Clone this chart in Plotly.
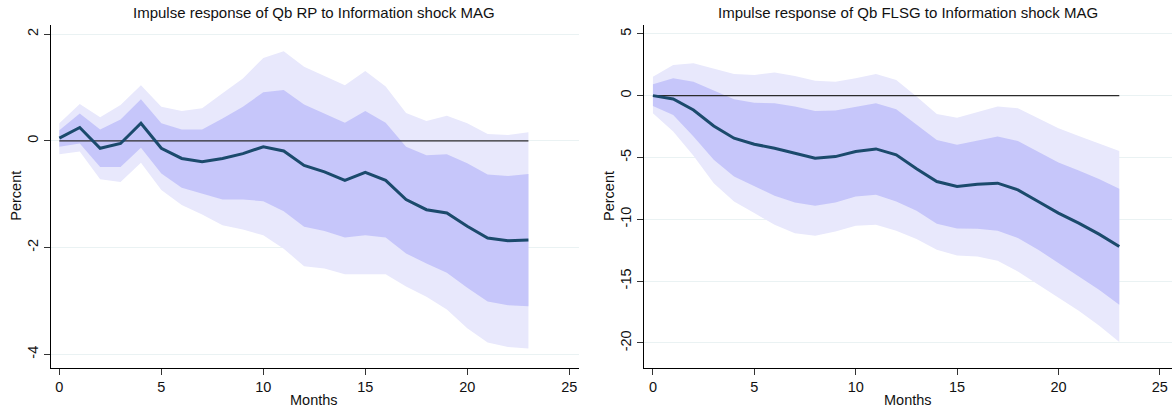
import plotly.graph_objects as go

# Horizon (months after the shock)
months = list(range(24))

# Axis ticks (labels written with a plain hyphen)
x_ticks = [0, 5, 10, 15, 20, 25]
rp_y_ticks = [-4, -2, 0, 2]
fl_y_ticks = [-20, -15, -10, -5, 0, 5]

# Qb RP: impulse response with inner and outer confidence bands
rp_irf = [0.05, 0.25, -0.14, -0.05, 0.33, -0.14, -0.33, -0.39, -0.33, -0.24, -0.11, -0.19,
          -0.46, -0.58, -0.74, -0.59, -0.74, -1.10, -1.29, -1.35, -1.60, -1.82, -1.87, -1.86]
rp_inner_hi = [0.20, 0.51, 0.21, 0.40, 0.78, 0.33, 0.21, 0.21, 0.42, 0.64, 0.91, 0.95,
               0.68, 0.51, 0.34, 0.56, 0.34, -0.11, -0.27, -0.25, -0.42, -0.63, -0.66, -0.62]
rp_inner_lo = [-0.11, -0.05, -0.49, -0.49, -0.13, -0.61, -0.88, -0.99, -1.10, -1.10, -1.13, -1.32,
               -1.61, -1.69, -1.81, -1.77, -1.81, -2.11, -2.30, -2.47, -2.75, -3.01, -3.08, -3.10]
rp_outer_hi = [0.33, 0.69, 0.44, 0.67, 1.04, 0.64, 0.56, 0.61, 0.89, 1.17, 1.55, 1.68,
               1.39, 1.21, 1.04, 1.31, 1.02, 0.52, 0.37, 0.47, 0.33, 0.13, 0.11, 0.16]
rp_outer_lo = [-0.25, -0.20, -0.72, -0.77, -0.41, -0.92, -1.20, -1.38, -1.58, -1.66, -1.77, -2.02,
               -2.35, -2.39, -2.50, -2.50, -2.50, -2.73, -2.92, -3.16, -3.51, -3.78, -3.86, -3.89]

# Qb FLSG: impulse response with inner and outer confidence bands
fl_irf = [0.0, -0.27, -1.16, -2.45, -3.44, -3.93, -4.25, -4.65, -5.06, -4.93, -4.52, -4.31,
          -4.79, -5.92, -6.95, -7.35, -7.16, -7.08, -7.62, -8.56, -9.50, -10.31, -11.20, -12.20]
fl_inner_hi = [0.92, 1.40, 1.13, 0.40, -0.29, -0.57, -0.62, -0.89, -1.24, -1.21, -0.89, -0.62,
               -1.10, -2.37, -3.58, -3.98, -3.63, -3.31, -3.66, -4.52, -5.41, -6.06, -6.75, -7.54]
fl_inner_lo = [-0.83, -1.56, -3.31, -5.19, -6.54, -7.35, -8.10, -8.64, -8.91, -8.64, -8.16, -8.02,
               -8.56, -9.31, -10.36, -10.74, -10.77, -10.93, -11.52, -12.46, -13.54, -14.62, -15.70, -16.90]
fl_outer_hi = [1.53, 2.48, 2.62, 2.21, 1.75, 1.67, 1.86, 1.59, 1.21, 1.13, 1.40, 1.75,
               1.27, -0.08, -1.48, -1.78, -1.34, -0.89, -1.02, -1.83, -2.63, -3.26, -3.85, -4.47]
fl_outer_lo = [-1.42, -2.91, -4.87, -7.08, -8.56, -9.50, -10.44, -11.12, -11.33, -10.98, -10.52, -10.44,
               -10.93, -11.60, -12.46, -12.92, -13.00, -13.35, -14.22, -15.29, -16.32, -17.39, -18.58, -19.92]

titles = ["Impulse response of Qb RP to Information shock MAG",
          "Impulse response of Qb FLSG to Information shock MAG"]

OUTER = "#e8e8fc"
INNER = "#c6c6fa"
LINE = "#1b4a6c"
FONT = "Liberation Sans, Arial, sans-serif"

fig = go.Figure()


def add_panel(xref, yref, irf, ilo, ihi, olo, ohi):
    xs = months + months[::-1]
    fig.add_trace(go.Scatter(x=xs, y=ohi + olo[::-1], fill="toself", fillcolor=OUTER,
                             line=dict(width=0), mode="lines", hoverinfo="skip",
                             xaxis=xref, yaxis=yref, showlegend=False))
    fig.add_trace(go.Scatter(x=xs, y=ihi + ilo[::-1], fill="toself", fillcolor=INNER,
                             line=dict(width=0), mode="lines", hoverinfo="skip",
                             xaxis=xref, yaxis=yref, showlegend=False))
    fig.add_trace(go.Scatter(x=[months[0], months[-1]], y=[0, 0], mode="lines",
                             line=dict(color="#2b2b2b", width=1.3),
                             xaxis=xref, yaxis=yref, showlegend=False))
    fig.add_trace(go.Scatter(x=months, y=irf, mode="lines",
                             line=dict(color=LINE, width=3),
                             xaxis=xref, yaxis=yref, showlegend=False))


add_panel("x", "y", rp_irf, rp_inner_lo, rp_inner_hi, rp_outer_lo, rp_outer_hi)
add_panel("x2", "y2", fl_irf, fl_inner_lo, fl_inner_hi, fl_outer_lo, fl_outer_hi)

W, H = 1175, 411
ydom = [(H - 367.7) / H, (H - 25) / H]

axis_common = dict(showline=True, linecolor="#000000", linewidth=1.2, ticks="outside",
                   ticklen=6, tickcolor="#333333", tickwidth=1,
                   tickfont=dict(family=FONT, size=14.5, color="#111111"),
                   zeroline=False, mirror=False)


def labels(vals):
    return [str(v) for v in vals]


fig.update_layout(
    width=W, height=H,
    margin=dict(l=0, r=0, t=0, b=0),
    paper_bgcolor="white", plot_bgcolor="white",
    font=dict(family=FONT, size=14.5, color="#111111"),
    xaxis=dict(domain=[51 / W, 579 / W], range=[-0.41, 25.48], tickvals=x_ticks,
               ticktext=labels(x_ticks), showgrid=False, anchor="y", **axis_common),
    yaxis=dict(domain=ydom, range=[-4.25, 2.17], tickvals=rp_y_ticks, ticktext=labels(rp_y_ticks),
               tickangle=-90, showgrid=True, gridcolor="#eaf2f3", gridwidth=1, anchor="x",
               **axis_common),
    xaxis2=dict(domain=[644 / W, 1172 / W], range=[-0.44, 25.6], tickvals=x_ticks,
                ticktext=labels(x_ticks), showgrid=False, anchor="y2", **axis_common),
    yaxis2=dict(domain=ydom, range=[-22.0, 5.71], tickvals=fl_y_ticks, ticktext=labels(fl_y_ticks),
                tickangle=-90, showgrid=True, gridcolor="#eaf2f3", gridwidth=1, anchor="x2",
                **axis_common),
)

title_font = dict(family=FONT, size=15, color="#111111")
label_font = dict(family=FONT, size=14.5, color="#111111")
annotations = []
for cx, title in zip([314, 908], titles):
    annotations.append(dict(text=title, x=cx / W, y=(H - 13) / H, xref="paper", yref="paper",
                            showarrow=False, xanchor="center", yanchor="middle", font=title_font))
    annotations.append(dict(text="Months", x=cx / W, y=(H - 400) / H, xref="paper", yref="paper",
                            showarrow=False, xanchor="center", yanchor="middle", font=label_font))
for px in [15.7, 609]:
    annotations.append(dict(text="Percent", x=px / W, y=(H - 196) / H, xref="paper", yref="paper",
                            showarrow=False, xanchor="center", yanchor="middle", textangle=-90,
                            font=label_font))
fig.update_layout(annotations=annotations)

fig.write_html("out.html")
